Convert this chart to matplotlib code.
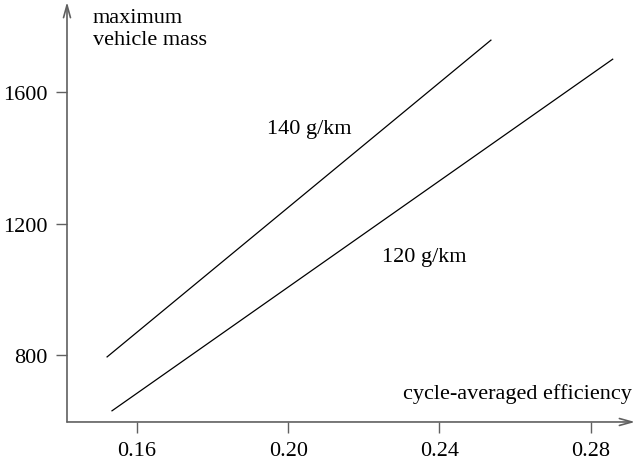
import matplotlib.pyplot as plt

plt.rcParams['font.family'] = ['Liberation Serif', 'DejaVu Serif']

# end points of each CO2 limit line: (efficiency, max mass)
eff_140 = [0.1521, 0.2536]
mass_140 = [794, 1758]
eff_120 = [0.1534, 0.2858]
mass_120 = [630, 1700]

x_ticks = [0.16, 0.20, 0.24, 0.28]
y_ticks = [800, 1200, 1600]

axis_grey = '#606060'
fs = 16

fig = plt.figure(figsize=(6.35, 4.64), dpi=100)
ax = fig.add_axes([0.1055, 0.0884, 0.8945, 0.9051])

ax.plot(eff_140, mass_140, color='black', lw=0.9)
ax.plot(eff_120, mass_120, color='black', lw=0.9)

ax.set_xlim(0.1415, 0.2917)
ax.set_ylim(596, 1874)

ax.set_xticks(x_ticks)
ax.set_xticklabels(['%.2f' % v for v in x_ticks])
ax.set_yticks(y_ticks)
ax.set_yticklabels([str(v) for v in y_ticks])
ax.tick_params(direction='out', length=8, width=1, color=axis_grey,
               labelsize=fs, pad=6)

for s in ax.spines.values():
    s.set_visible(False)

# axes with open arrow heads
arrow = dict(arrowstyle='->,head_length=0.9,head_width=0.25', color=axis_grey,
             lw=1.2, shrinkA=0, shrinkB=0)
ax.annotate('', xy=(1, 0), xytext=(0, 0), xycoords='axes fraction',
            arrowprops=arrow, annotation_clip=False)
ax.annotate('', xy=(0, 1), xytext=(0, 0), xycoords='axes fraction',
            arrowprops=arrow, annotation_clip=False)

ax.text(0.045, 0.985, 'maximum\nvehicle mass', transform=ax.transAxes,
        fontsize=fs, ha='left', va='top', linespacing=1.2)
ax.text(0.995, 0.045, 'cycle-averaged efficiency', transform=ax.transAxes,
        fontsize=fs, ha='right', va='bottom')

ax.text(0.1944, 1490, '140 g/km', fontsize=fs, ha='left', va='center')
ax.text(0.2248, 1101, '120 g/km', fontsize=fs, ha='left', va='center')

fig.savefig('out.png', dpi=100)
